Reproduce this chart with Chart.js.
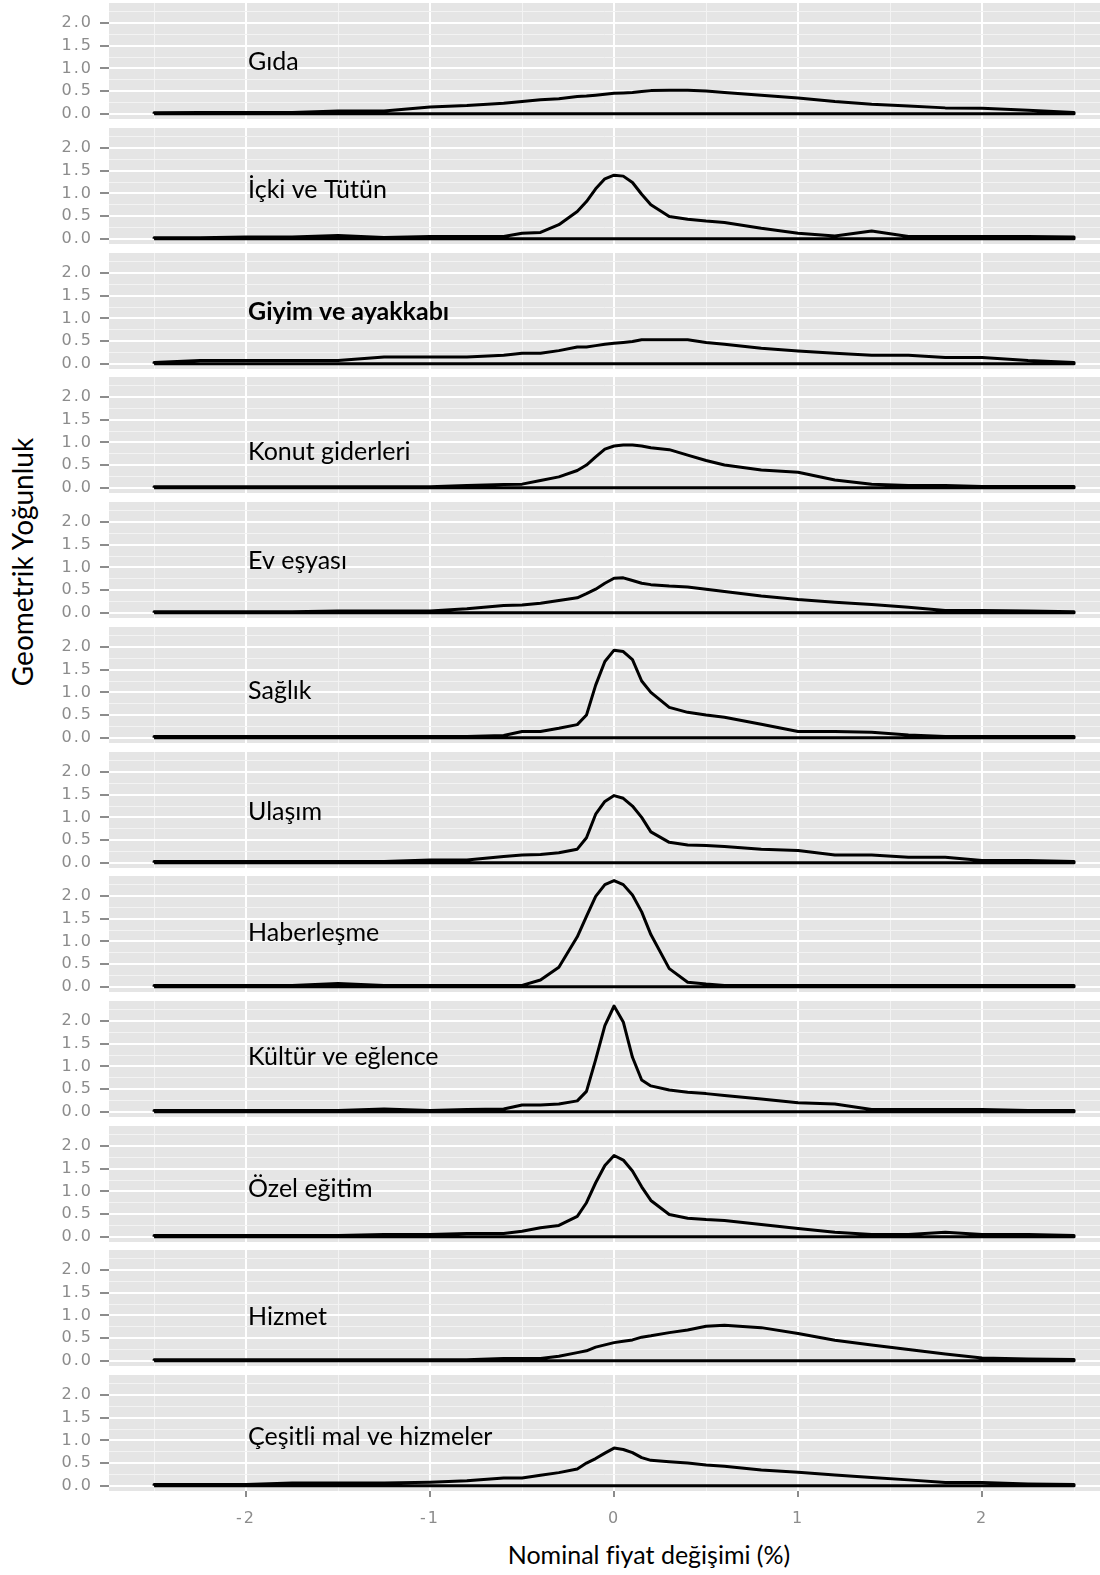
<!DOCTYPE html>
<html lang="tr">
<head>
<meta charset="utf-8">
<script src="https://cdn.jsdelivr.net/npm/chart.js@4.4.1/dist/chart.umd.min.js"></script>
<style>
  body { margin:0; background:#fff; width:1100px; height:1575px; position:relative; overflow:hidden; }
  canvas { position:absolute; left:0; }
  .ttl { position:absolute; font-family:Lato, "Open Sans", sans-serif; color:#000; white-space:nowrap; transform-origin:center; }
  #ytitle { left:22px; top:562px; font-size:28px; transform:translate(-50%,-50%) rotate(-90deg); }
  #xtitle { left:649px; top:1554px; font-size:25px; transform:translate(-50%,-50%); }
</style>
</head>
<body>
<div class="ttl" id="ytitle">Geometrik Yoğunluk</div>
<div class="ttl" id="xtitle">Nominal fiyat değişimi (%)</div>
<script>
const xGrid = [-2.5, -2.25, -2.0, -1.75, -1.5, -1.25, -1.0, -0.8, -0.6, -0.5, -0.4, -0.3, -0.2, -0.15, -0.1, -0.05,
  0, 0.05, 0.1, 0.15, 0.2, 0.3, 0.4, 0.5, 0.6, 0.8, 1.0, 1.2, 1.4, 1.6, 1.8, 2.0, 2.25, 2.5]

const gida       = [0.02,0.03,0.03,0.03,0.06,0.06,0.15,0.18,0.23,0.27,0.31,0.33,0.38,0.39,0.41,0.43, 0.45,0.46,0.47,0.49,0.51,0.52,0.52,0.50,0.47,0.41,0.35,0.27,0.21,0.17,0.13,0.12,0.08,0.03]
const ickiTutun  = [0.02,0.02,0.04,0.04,0.07,0.03,0.05,0.05,0.05,0.12,0.14,0.31,0.60,0.82,1.10,1.32, 1.40,1.38,1.24,0.98,0.75,0.49,0.43,0.39,0.36,0.23,0.12,0.06,0.17,0.05,0.05,0.05,0.05,0.04]
const giyim      = [0.03,0.07,0.07,0.07,0.07,0.15,0.15,0.15,0.19,0.23,0.23,0.29,0.37,0.37,0.40,0.43, 0.45,0.47,0.49,0.53,0.53,0.53,0.53,0.47,0.43,0.34,0.28,0.23,0.19,0.19,0.14,0.14,0.07,0.03]
const konut      = [0.02,0.02,0.02,0.02,0.02,0.02,0.02,0.05,0.07,0.08,0.16,0.24,0.38,0.50,0.68,0.85, 0.92,0.94,0.94,0.92,0.88,0.84,0.72,0.60,0.50,0.39,0.34,0.17,0.08,0.05,0.05,0.03,0.03,0.03]
const evEsyasi   = [0.02,0.02,0.02,0.02,0.04,0.04,0.04,0.09,0.16,0.17,0.21,0.27,0.33,0.42,0.52,0.65, 0.76,0.77,0.71,0.65,0.62,0.59,0.57,0.52,0.47,0.37,0.29,0.23,0.18,0.12,0.05,0.05,0.04,0.02]
const saglik     = [0.03,0.03,0.03,0.03,0.03,0.03,0.03,0.03,0.05,0.14,0.14,0.21,0.29,0.50,1.16,1.68, 1.93,1.90,1.72,1.25,1.00,0.67,0.56,0.50,0.45,0.30,0.14,0.14,0.12,0.06,0.03,0.03,0.03,0.03]
const ulasim     = [0.03,0.03,0.03,0.03,0.03,0.03,0.06,0.06,0.14,0.17,0.18,0.22,0.30,0.55,1.07,1.35, 1.48,1.42,1.25,1.00,0.68,0.45,0.39,0.38,0.36,0.30,0.27,0.17,0.17,0.12,0.12,0.05,0.05,0.03]
const haberlesme = [0.03,0.03,0.03,0.03,0.07,0.03,0.03,0.03,0.03,0.03,0.15,0.43,1.10,1.55,1.99,2.25, 2.34,2.25,2.02,1.65,1.15,0.40,0.10,0.06,0.03,0.03,0.03,0.03,0.03,0.03,0.03,0.03,0.03,0.03]
const kultur     = [0.03,0.03,0.03,0.03,0.03,0.06,0.03,0.05,0.06,0.15,0.15,0.17,0.24,0.45,1.15,1.90, 2.33,1.98,1.20,0.70,0.57,0.48,0.43,0.40,0.36,0.28,0.20,0.17,0.05,0.05,0.05,0.05,0.03,0.03]
const ozelEgitim = [0.03,0.03,0.03,0.03,0.03,0.05,0.05,0.07,0.07,0.12,0.20,0.25,0.45,0.75,1.19,1.57, 1.79,1.69,1.45,1.10,0.80,0.49,0.41,0.38,0.36,0.27,0.18,0.10,0.05,0.05,0.10,0.05,0.05,0.03]
const hizmet     = [0.02,0.02,0.02,0.02,0.02,0.02,0.02,0.02,0.05,0.05,0.05,0.10,0.18,0.22,0.30,0.35, 0.40,0.43,0.46,0.52,0.55,0.62,0.68,0.76,0.78,0.73,0.60,0.45,0.35,0.25,0.15,0.06,0.04,0.03]
const cesitli    = [0.03,0.03,0.03,0.06,0.06,0.06,0.08,0.11,0.17,0.17,0.23,0.29,0.37,0.50,0.60,0.72, 0.83,0.80,0.73,0.62,0.56,0.53,0.50,0.46,0.43,0.35,0.30,0.24,0.18,0.13,0.07,0.07,0.04,0.03]

const panelNames = ["Gıda", "İçki ve Tütün", "Giyim ve ayakkabı", "Konut giderleri", "Ev eşyası", "Sağlık",
  "Ulaşım", "Haberleşme", "Kültür ve eğlence", "Özel eğitim", "Hizmet", "Çeşitli mal ve hizmeler"]
const panelSeries = [gida, ickiTutun, giyim, konut, evEsyasi, saglik, ulasim, haberlesme, kultur, ozelEgitim, hizmet, cesitli]
const labelY = [1.15, 1.07, 1.15, 0.79, 1.15, 1.04, 1.13, 1.18, 1.21, 1.05, 0.96, 1.08]
const boldPanel = "Giyim ve ayakkabı"

const yTicks = [0, 0.25, 0.5, 0.75, 1.0, 1.25, 1.5, 1.75, 2.0, 2.25]
const xTicks = [-2.5, -2, -1.5, -1, -0.5, 0, 0.5, 1, 1.5, 2, 2.5]

const TICK_GREY = '#8c8c8c'
const PAD = 12

const isMajorY = v => Math.abs(v * 2 - Math.round(v * 2)) < 1e-9
const isMajorX = v => Number.isInteger(v)

const panelBg = {
  id: 'panelBg',
  beforeDraw(chart) {
    const {ctx, chartArea: a} = chart
    ctx.save()
    ctx.fillStyle = '#e5e5e5'
    ctx.fillRect(a.left, a.top, a.right - a.left, a.bottom - a.top)
    ctx.restore()
    // the original tick numbers are stretched sideways
    ctx.letterSpacing = '2px'
  }
}

const panelLabel = {
  id: 'panelLabel',
  afterDatasetsDraw(chart, args, opts) {
    const {ctx, scales: {x, y}} = chart
    ctx.save()
    ctx.letterSpacing = '0px'
    ctx.font = (opts.bold ? 'bold ' : '') + '25px Lato'
    ctx.fillStyle = '#000'
    ctx.textAlign = 'left'
    ctx.textBaseline = 'middle'
    ctx.fillText(opts.text, x.getPixelForValue(-2) + 2, y.getPixelForValue(opts.y))
    ctx.restore()
  }
}

panelSeries.forEach((ys, k) => {
  const last = k === panelSeries.length - 1
  const top = Math.round(3.3 + 124.7 * k)
  const h = PAD + 116 + (last ? 44 : PAD)
  const cv = document.createElement('canvas')
  cv.width = 1100
  cv.height = h
  cv.style.width = '1100px'
  cv.style.height = h + 'px'
  cv.style.top = (top - PAD) + 'px'
  document.body.appendChild(cv)

  const pts = [{x: -2.5, y: 0}].concat(xGrid.map((x, i) => ({x: x, y: ys[i]})), [{x: 2.5, y: 0}, {x: -2.5, y: 0}])

  new Chart(cv.getContext('2d'), {
    type: 'line',
    data: {
      datasets: [{
        data: pts,
        borderColor: '#000',
        borderWidth: 3,
        pointRadius: 0,
        tension: 0,
        fill: false,
        borderJoinStyle: 'round'
      }]
    },
    options: {
      responsive: false,
      animation: false,
      devicePixelRatio: 1,
      layout: {padding: {top: PAD, bottom: last ? 0 : PAD, left: 0, right: 0}},
      plugins: {
        legend: {display: false},
        tooltip: {enabled: false},
        panelLabel: {text: panelNames[k], y: labelY[k], bold: panelNames[k] === boldPanel}
      },
      scales: {
        x: {
          type: 'linear',
          min: -2.745,
          max: 2.641,
          afterBuildTicks: s => { s.ticks = xTicks.map(v => ({value: v})) },
          afterFit: s => {
            s.height = last ? 44 : 0
            s.paddingLeft = 0
            s.paddingRight = 0
          },
          border: {display: false},
          grid: {
            color: c => c.tick && isMajorX(c.tick.value) ? '#ffffff' : '#f3f3f3',
            lineWidth: c => c.tick && isMajorX(c.tick.value) ? 2 : 1,
            tickColor: c => c.tick && isMajorX(c.tick.value) ? TICK_GREY : 'rgba(0,0,0,0)',
            tickLength: 6,
            drawTicks: last
          },
          ticks: {
            display: last,
            autoSkip: false,
            maxRotation: 0,
            padding: 12,
            color: TICK_GREY,
            font: {family: 'DejaVu Sans', size: 16},
            callback: v => isMajorX(v) ? String(v) : ''
          }
        },
        y: {
          min: -0.115,
          max: 2.44,
          afterBuildTicks: s => { s.ticks = yTicks.map(v => ({value: v})) },
          afterFit: s => {
            s.width = 109
            s.paddingTop = 0
            s.paddingBottom = 0
          },
          border: {display: false},
          grid: {
            color: c => c.tick && isMajorY(c.tick.value) ? '#ffffff' : '#f3f3f3',
            lineWidth: c => c.tick && isMajorY(c.tick.value) ? 2 : 1,
            tickColor: c => c.tick && isMajorY(c.tick.value) ? TICK_GREY : 'rgba(0,0,0,0)',
            tickLength: 9
          },
          ticks: {
            autoSkip: false,
            padding: 7,
            color: TICK_GREY,
            font: {family: 'DejaVu Sans', size: 16},
            callback: v => isMajorY(v) ? v.toFixed(1) : ''
          }
        }
      }
    },
    plugins: [panelBg, panelLabel]
  })
})
</script>
</body>
</html>
